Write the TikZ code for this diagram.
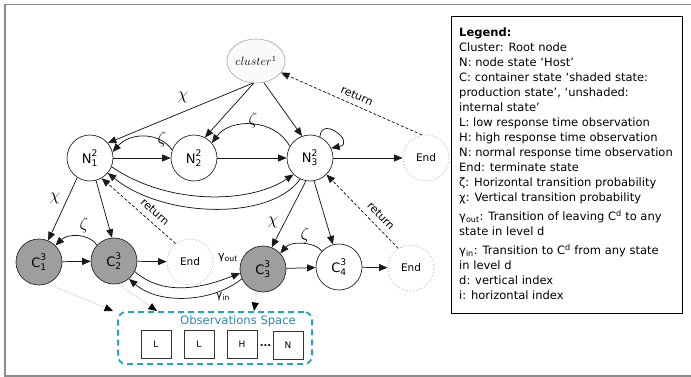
\documentclass[tikz,border=0pt]{standalone}
\usepackage{amsmath}
\usepackage{fontspec}
\setmainfont{DejaVu Sans}
\setsansfont{DejaVu Sans}
\usetikzlibrary{arrows.meta,shapes.geometric}
\definecolor{obsblue}{RGB}{30,165,205}
\definecolor{obstitle}{RGB}{45,135,175}
\definecolor{cfill}{RGB}{158,158,158}
\definecolor{framegray}{RGB}{140,140,140}
\begin{document}
\begin{tikzpicture}[x=1pt,y=-1pt,
  st/.style={circle,draw=black!85,line width=0.7pt,minimum size=46pt,inner sep=0pt,font=\fontsize{13}{13}\selectfont},
  cst/.style={st,fill=cfill},
  endst/.style={circle,draw=gray!55,dotted,line width=0.9pt,minimum size=46pt,inner sep=0pt,font=\fontsize{10.5}{10.5}\selectfont},
  arr/.style={-{Triangle[length=8.5pt,width=7pt]},draw=black!90,line width=0.75pt},
  ret/.style={arr,dash pattern=on 3pt off 2pt},
  obsarr/.style={-{Triangle[length=8.5pt,width=7pt,color=black]},draw=gray!50,line width=0.7pt,dash pattern=on 1pt off 1pt},
  glabel/.style={font=\fontsize{16}{16}\selectfont,inner sep=0pt},
  gammalabel/.style={font=\fontsize{11}{11}\selectfont,inner sep=0pt},
  retlabel/.style={font=\fontsize{11}{11}\selectfont,inner sep=0pt},
  obsitem/.style={draw=black!80,line width=0.8pt,minimum width=30pt,minimum height=28pt,inner sep=0pt,font=\fontsize{9}{9}\selectfont}
]
\useasboundingbox (0,0) rectangle (691,377);
% outer frame
\draw[framegray,line width=1.5pt] (695,4.5) -- (5,4.5) -- (5,376) -- (695,376);

% legend
\node[draw=black,line width=0.8pt,minimum width=231pt,minimum height=297pt,inner sep=0pt] (legbox) at (566.5,164.5) {};
\node[anchor=north west,inner sep=0pt,align=left,font=\fontsize{11.5}{15}\selectfont] (legtext) at (459,28) {%
\textbf{Legend:}\\
Cluster: Root node\\
N: node state ‘Host’\\
C: container state ‘shaded state:\\
production state’, ‘unshaded:\\
internal state’\\
L: low response time observation\\
H: high response time observation\\
N: normal response time observation\\
End: terminate state\\
ζ: Horizontal transition probability\\
χ: Vertical transition probability\\[4pt]
γ\textsubscript{out}: Transition of leaving C\textsuperscript{d} to any\\
state in level d\\[4pt]
γ\textsubscript{in}: Transition to C\textsuperscript{d} from any state\\
in level d\\
d: vertical index\\
i: horizontal index};

% nodes
\node[ellipse,draw=gray!70,fill=gray!4,line width=0.6pt,minimum width=50pt,minimum height=44pt,inner sep=0pt,font=\fontsize{11.5}{11.5}\selectfont] (cluster) at (256,61) {$cluster^{1}$};
\node[st] (N1) at (90,158) {$\text{N}^{\text{2}}_{\text{1}}$};
\node[st] (N2) at (194,158) {$\text{N}^{\text{2}}_{\text{2}}$};
\node[st] (N3) at (310,158) {$\text{N}^{\text{2}}_{\text{3}}$};
\node[endst] (EndT) at (426,158) {End};
\node[cst] (C1) at (39,262) {$\text{C}^{\text{3}}_{\text{1}}$};
\node[cst] (C2) at (114,261) {$\text{C}^{\text{3}}_{\text{2}}$};
\node[endst] (EndM) at (190,262) {End};
\node[cst] (C3) at (263,269) {$\text{C}^{\text{3}}_{\text{3}}$};
\node[st] (C4) at (339,267) {$\text{C}^{\text{3}}_{\text{4}}$};
\node[endst] (EndR) at (411,268) {End};

% observation space
\node[draw=obsblue,dash pattern=on 6pt off 4pt,line width=1.8pt,rounded corners=8pt,minimum width=194pt,minimum height=52pt,inner sep=0pt] (obs) at (215,338) {};
\node[text=obstitle,font=\fontsize{11.6}{12}\selectfont,inner sep=0pt] (obst) at (238,321) {Observations Space};
\node[obsitem] (o1) at (156,344) {L};
\node[obsitem] (o2) at (199,344) {L};
\node[obsitem] (o3) at (242,344) {H};
\node[obsitem] (o4) at (288,345) {N};
\node[font=\fontsize{10}{10}\selectfont\bfseries,inner sep=0pt] (dots) at (265.5,346) {...};
\coordinate (t1) at (113,311);
\coordinate (t2) at (157,311);
\coordinate (t3) at (254,311);

% cluster level
\draw[arr] (cluster.262) -- (N1.40);
\draw[arr] (cluster.264) -- (N2.62);
\draw[arr] (cluster.290) -- (N3.110);
\node[glabel] (chi1) at (183,97) {$\chi$};
\draw[ret] (EndT.100) -- (cluster.-25);
\node[retlabel,rotate=-23] (ret1) at (357,96) {return};

% node level
\draw[arr] (N1) -- (N2);
\draw[arr] (N2) -- (N3);
\draw[arr] (N3) -- (EndT);
\draw[arr] (N2.160) .. controls +(-12,-18) and +(18,-20) .. (N1.15);
\node[glabel] (zeta1) at (162,139) {$\zeta$};
\draw[arr] (N3.150) .. controls +(-15,-28.5) and +(18,-25) .. (N2.40);
\node[glabel] (zeta2) at (253,120) {$\zeta$};
\draw[arr] (N3.65) .. controls +(2,-22) and +(25,-5) .. (N3.25);
\draw[arr] (N1.-22) .. controls +(55,38) and +(-45,30) .. (N3.225);
\draw[arr] (N3.245) .. controls +(-30,42) and +(55,45) .. (N1.-40);

% node to container
\draw[arr] (N1.237) -- (C1.67);
\node[glabel] (chi2) at (55,198) {$\chi$};
\draw[arr] (N1.-75) -- (C2.95);
\draw[ret] (EndM.128) -- (N1.-60);
\node[retlabel,rotate=-42] (ret2) at (155,212) {return};
\draw[arr] (N3.260) -- (C3.68);
\node[glabel] (chi3) at (273,222) {$\chi$};
\draw[arr] (N3.280) -- (C4.105);
\draw[ret] (EndR.123) -- (N3.-45);
\node[retlabel,rotate=-46] (ret3) at (381,216) {return};

% container level
\draw[arr] (C1) -- (C2);
\draw[arr] (C2) -- (EndM);
\draw[arr] (C2.137) .. controls +(-8,-12) and +(12,-12) .. (C1.45);
\node[glabel] (zeta3) at (84,225) {$\zeta$};
\draw[arr] (C3) -- (C4);
\draw[arr] (C4) -- (EndR);
\draw[arr] (C4.137) .. controls +(-8,-10) and +(10,-12) .. (C3.42);
\node[glabel] (zeta4) at (305,235) {$\zeta$};
\draw[arr] (C2.-27) .. controls +(30,26) and +(-35,14) .. (C3.190);
\node[gammalabel] (gout) at (228,258) {γ\textsubscript{out}};
\draw[arr] (C3.205) .. controls +(-30,24) and +(30,26) .. (C2.-50);
\node[gammalabel] (gin) at (223,297) {γ\textsubscript{in}};

% emissions
\draw[obsarr] (C1.-69) -- (t1);
\draw[obsarr] (C2.-80) -- (t2);
\draw[obsarr] (C3.-105) -- (t3);
\end{tikzpicture}
\end{document}
